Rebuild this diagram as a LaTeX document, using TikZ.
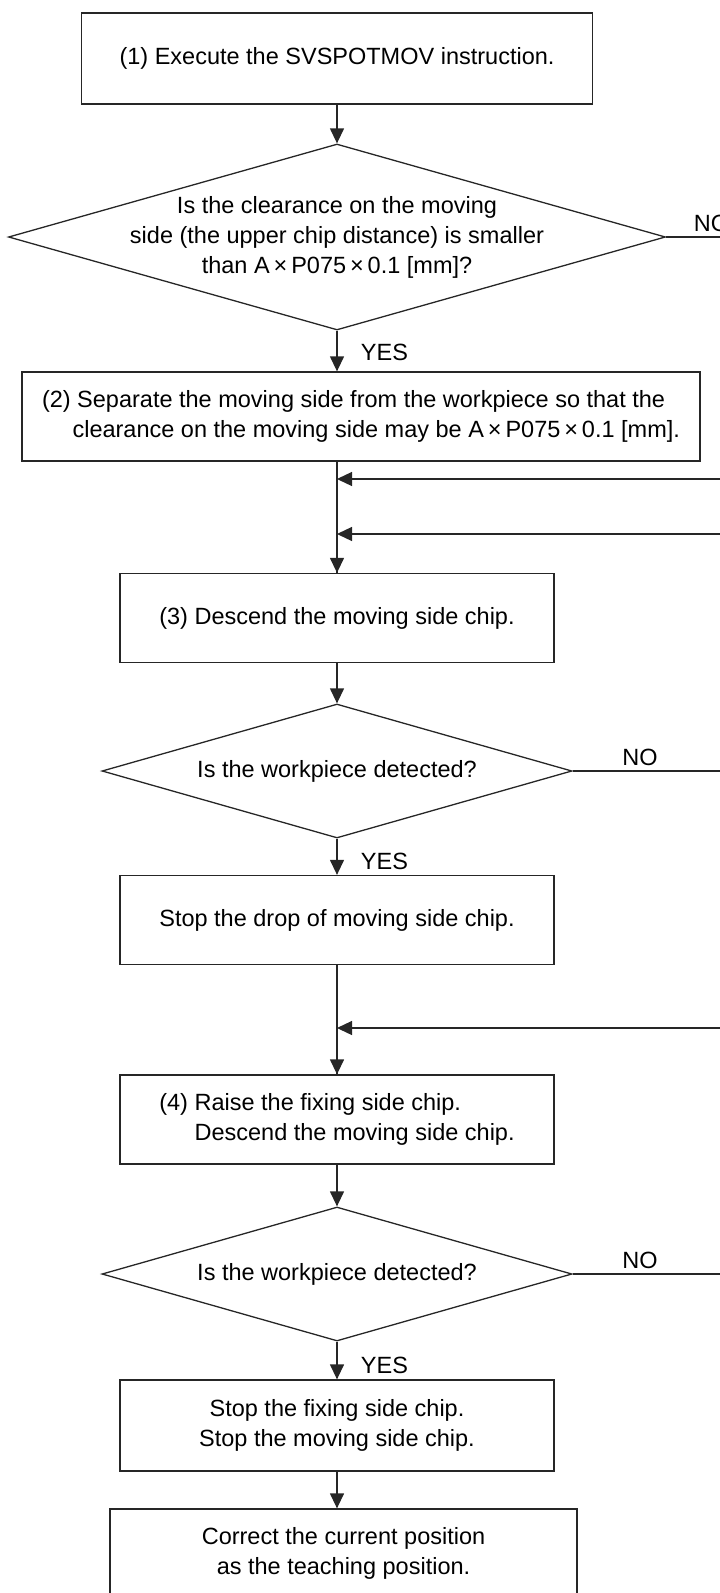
\documentclass[tikz,border=0pt]{standalone}
\usepackage{fontspec}
\setmainfont{Liberation Sans}
\usetikzlibrary{arrows.meta,shapes.geometric}

\begin{document}
\begin{tikzpicture}[x=1pt, y=-1pt, line width=1.3pt, draw=black!85,
  every node/.style={font=\fontsize{23.5}{30}\selectfont},
  box/.style={draw, inner sep=0pt, align=center, minimum width=434pt, minimum height=89pt},
  decision/.style={draw, shape=diamond, inner sep=0pt, minimum width=470pt, minimum height=134pt},
  flow/.style={-{Triangle[length=15pt,width=14pt]}},
% every node/.style={scale=0.9}
]
\useasboundingbox (0,0) rectangle (720,1593);
\clip (0,0) rectangle (720,1593);
\coordinate (edge) at (720,0);
\coordinate (back1) at (720,479);
\coordinate (back2) at (720,534);
\coordinate (back3) at (720,1028);

\node[box, minimum width=511pt, minimum height=91pt] (exec) at (337,58.5) {(1) Execute the SVSPOTMOV instruction.};
\node[decision, minimum width=657pt, minimum height=186pt] (clear) at (337,237) {};
\node[align=center] (cleartxt) at (clear.center) {Is the clearance on the moving\\side (the upper chip distance) is smaller\\than A\,×\,P075\,×\,0.1 [mm]?};
\node[box, align=left, minimum width=678pt] (sep) at (361,416.5) {(2) Separate the moving side from the workpiece so that the\\\hspace*{1.3em}clearance on the moving side may be A\,×\,P075\,×\,0.1 [mm].};
\node[box] (desc) at (337,618) {(3) Descend the moving side chip.};
\node[decision] (det1) at (337,771) {};
\node (det1txt) at (det1.center) {Is the workpiece detected?};
\node[box] (stop) at (337,920) {Stop the drop of moving side chip.};
\node[box, align=left] (raise) at (337,1119.5) {(4) Raise the fixing side chip.\\\hspace*{1.5em}Descend the moving side chip.};
\node[decision] (det2) at (337,1274) {};
\node (det2txt) at (det2.center) {Is the workpiece detected?};
\node[box, minimum height=91pt] (stopboth) at (337,1425.5) {Stop the fixing side chip.\\Stop the moving side chip.};
\node[box, minimum width=467pt, minimum height=88pt] (correct) at (343.5,1553) {Correct the current position\\as the teaching position.};

\node[anchor=west] (yes1) at (357,352) {YES};
\node[anchor=west] (yes2) at (357,861) {YES};
\node[anchor=west] (yes3) at (357,1365) {YES};
\node[anchor=west] (no1) at (690,223) {NO};
\node (no2) at (640,757) {NO};
\node (no3) at (640,1260) {NO};

\draw[flow] (exec) -- (clear);
\draw[flow] (clear) -- (clear.south |- sep.north);
\draw (clear.east) -- (clear.east -| edge);
\draw (sep.south -| desc.north) -- (desc.north);
\draw[flow] (back1) -- (back1 -| desc.north);
\draw[flow] (back2) -- (back2 -| desc.north);
\draw[flow] (back2 -| desc.north) -- (desc.north);
\draw[flow] (desc) -- (det1);
\draw (det1.east) -- (det1.east -| edge);
\draw[flow] (det1) -- (stop);
\draw (stop.south) -- (raise.north);
\draw[flow] (back3) -- (back3 -| raise.north);
\draw[flow] (back3 -| raise.north) -- (raise.north);
\draw[flow] (raise) -- (det2);
\draw (det2.east) -- (det2.east -| edge);
\draw[flow] (det2) -- (stopboth);
\draw[flow] (stopboth) -- (stopboth.south |- correct.north);
\end{tikzpicture}
\end{document}
